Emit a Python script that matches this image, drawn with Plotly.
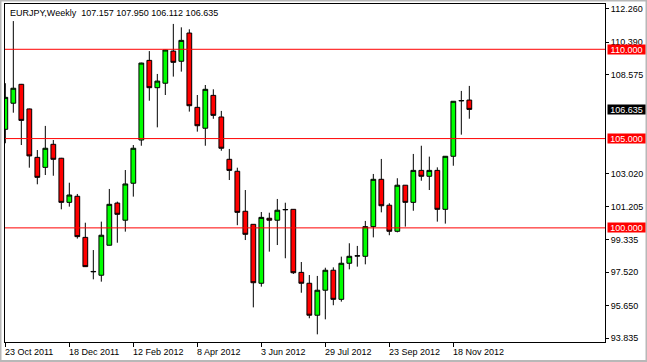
import plotly.graph_objects as go
import pandas as pd

# ---- data (EURJPY weekly candles) ----
week_start = "2011-10-23"
n_weeks = 59
opens  = [105.52,106.98,108.04,106.66,103.95,103.39,104.68,103.90,101.43,101.77,
          99.47,97.54,97.35,99.03,101.39,100.43,102.50,104.92,109.38,107.85,
          108.10,109.90,109.33,110.91,106.75,105.58,107.42,106.21,103.84,103.17,
          100.93,100.20,96.90,100.54,100.43,101.01,101.04,97.51,96.90,95.11,
          96.51,97.63,96.00,98.02,98.42,98.41,100.07,102.72,101.27,99.81,
          102.39,101.43,103.22,102.89,103.22,101.04,104.01,107.11,107.157]
highs  = [108.10,111.58,108.06,106.68,104.36,105.71,104.92,103.92,102.53,101.90,
          100.29,98.76,100.35,102.18,101.47,103.24,104.64,109.25,109.90,108.62,
          109.97,111.42,111.23,111.12,107.44,108.00,107.76,106.55,104.42,103.37,
          102.12,100.21,100.89,100.85,101.62,101.41,101.05,98.09,97.36,97.31,
          97.77,97.79,98.39,99.14,98.99,100.39,103.02,103.86,101.38,102.78,
          102.40,104.14,104.60,103.99,103.39,104.02,107.10,107.67,107.950]
lows   = [104.74,106.45,104.64,103.37,102.44,102.96,102.92,101.04,101.19,99.40,
          97.82,97.12,96.99,99.02,99.17,99.79,101.75,104.60,107.12,105.63,
          107.44,108.47,108.75,106.51,105.39,104.60,106.11,104.32,102.68,100.15,
          99.32,95.55,96.71,98.67,99.04,98.30,97.42,96.37,94.94,94.04,
          94.88,95.67,95.87,97.68,97.83,97.96,99.47,100.87,99.59,99.75,
          100.07,100.96,102.64,102.12,100.35,100.24,103.48,105.22,106.112]
closes = [107.31,107.82,106.02,104.03,102.83,104.46,103.84,101.43,101.84,99.51,
          97.83,97.56,99.59,101.32,100.76,102.46,104.46,109.23,107.85,108.22,
          109.96,109.27,110.50,106.84,105.72,107.76,106.30,104.46,103.22,100.87,
          99.64,96.93,100.59,100.43,100.99,101.03,97.49,96.90,95.11,96.51,
          97.63,96.00,98.02,98.41,98.44,100.07,102.72,101.24,99.81,102.39,
          101.43,103.22,102.89,103.22,101.04,104.01,107.09,107.13,106.635]

date_tick_labels = ["23 Oct 2011", "18 Dec 2011", "12 Feb 2012", "8 Apr 2012",
                    "3 Jun 2012", "29 Jul 2012", "23 Sep 2012", "18 Nov 2012"]
price_ticks = [112.260, 110.390, 108.575, 103.020, 101.205, 99.335, 97.520, 95.650, 93.835]
level_lines = [110.0, 105.0, 100.0]
symbol = "EURJPY,Weekly"
last_ohlc = ["107.157", "107.950", "106.112", "106.635"]
current_price = 106.635

dates = [d.strftime("%Y-%m-%d") for d in pd.date_range(week_start, periods=n_weeks, freq="7D")]
tick_dates = dates[0::8]

FONT = "Liberation Sans"
FS = 9

fig = go.Figure()
fig.add_trace(go.Candlestick(
    x=dates, open=opens, high=highs, low=lows, close=closes,
    increasing=dict(line=dict(color="black", width=1), fillcolor="#00FF00"),
    decreasing=dict(line=dict(color="black", width=1), fillcolor="#FF0000"),
    whiskerwidth=0, hoverinfo="skip", showlegend=False,
))

shapes = []
for lv in level_lines:
    shapes.append(dict(type="line", xref="paper", yref="y", x0=0, x1=1, y0=lv, y1=lv,
                       line=dict(color="#FF0000", width=1), layer="above"))
# outer window frame
shapes.append(dict(type="rect", xref="paper", yref="paper",
                   x0=(0.5-5)/600, x1=(646.5-5)/600, y0=(342-361)/338, y1=(342-0.5)/338,
                   line=dict(color="#B8B8B8", width=2)))

ann = []
ann.append(dict(xref="paper", yref="paper", x=(8-5)/600, y=(342-13)/338,
                xanchor="left", yanchor="middle", showarrow=False,
                text=symbol + "\u00a0\u00a0" + " ".join(last_ohlc),
                font=dict(family=FONT, size=FS, color="black")))
for lbl, d in zip(date_tick_labels, tick_dates):
    ann.append(dict(xref="x", yref="paper", x=d, y=(342-351.5)/338,
                    xanchor="left", yanchor="middle", showarrow=False, xshift=-2,
                    text=lbl, font=dict(family=FONT, size=FS, color="black")))
for lv in level_lines:
    ann.append(dict(xref="paper", yref="y", x=(607-5)/600, y=lv, xanchor="left",
                    yanchor="middle", showarrow=False, text=f"{lv:.3f}",
                    bgcolor="#FF0000", width=37, height=9, borderpad=0, align="center",
                    font=dict(family=FONT, size=FS, color="white")))
ann.append(dict(xref="paper", yref="y", x=(607-5)/600, y=current_price, xanchor="left",
                yanchor="middle", showarrow=False, text=f"{current_price:.3f}",
                bgcolor="#000000", width=37, height=9, borderpad=0, align="center",
                font=dict(family=FONT, size=FS, color="white")))

fig.update_layout(
    width=647, height=362, margin=dict(l=5, r=42, t=4, b=20),
    paper_bgcolor="white", plot_bgcolor="white",
    boxgap=0.3, boxgroupgap=0.15,
    shapes=shapes, annotations=ann,
    font=dict(family=FONT, size=FS, color="black"),
)
fig.update_xaxes(type="category", range=[-0.04, 74.96], rangeslider=dict(visible=False),
                 showgrid=False, zeroline=False, showline=True, mirror=True,
                 linecolor="black", linewidth=1, ticks="outside", ticklen=4,
                 tickcolor="black", tickvals=tick_dates, showticklabels=False)
fig.update_yaxes(side="right", range=[93.611, 112.536], showgrid=False, zeroline=False,
                 showline=True, mirror=True, linecolor="black", linewidth=1,
                 ticks="outside", ticklen=3, tickcolor="black",
                 tickvals=price_ticks, ticktext=[f"{v:.3f}" for v in price_ticks],
                 tickfont=dict(family=FONT, size=FS, color="black"))

fig.write_html("out.html")
